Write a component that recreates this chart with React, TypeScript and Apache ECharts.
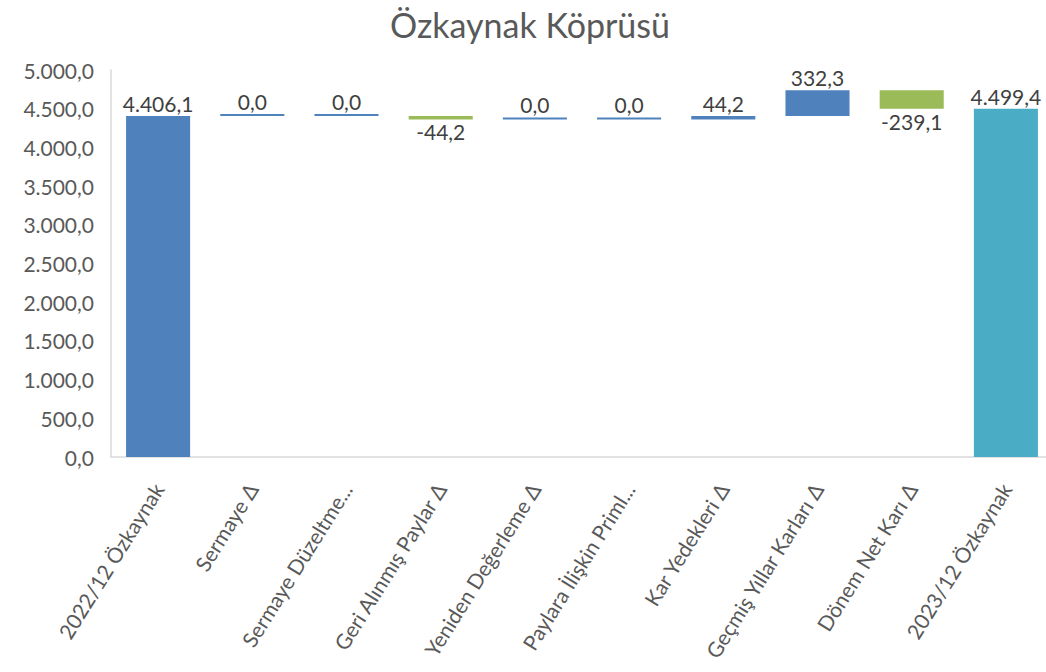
import React, { useEffect, useRef } from "react";
import * as echarts from "echarts";

const categories = [
  "2022/12 Özkaynak",
  "Sermaye Δ",
  "Sermaye Düzeltme...",
  "Geri Alınmış Paylar Δ",
  "Yeniden Değerleme Δ",
  "Paylara İlişkin Priml...",
  "Kar Yedekleri Δ",
  "Geçmiş Yıllar Karları Δ",
  "Dönem Net Karı Δ",
  "2023/12 Özkaynak",
];
const values = [4406.1, 0, 0, -44.2, 0, 0, 44.2, 332.3, -239.1, 4499.4];
const isTotal = [true, false, false, false, false, false, false, false, false, true];
const yTicks = { min: 0, max: 5000, interval: 500 };

const BLUE = "#4f81bd";
const GREEN = "#9bbb59";
const TEAL = "#4bacc6";
const FONT = "Lato, 'Noto Sans', sans-serif";

function fmt(v: number): string {
  const neg = v < 0;
  const s = Math.abs(v).toFixed(1);
  const [i, d] = s.split(".");
  const withDots = i.replace(/\B(?=(\d{3})+(?!\d))/g, ".");
  return (neg ? "-" : "") + withDots + "," + d;
}

export default function App() {
  const ref = useRef<HTMLDivElement>(null);
  useEffect(() => {
    if (!ref.current) return;
    const chart = echarts.init(ref.current, undefined, { renderer: "svg" });

    let cum = 0;
    const base: number[] = [];
    const vis: any[] = [];
    values.forEach((v, idx) => {
      if (isTotal[idx]) {
        base.push(0);
        cum = v;
        vis.push({
          value: v,
          itemStyle: { color: idx === 0 ? BLUE : TEAL },
          label: { position: "top" },
        });
      } else {
        if (v >= 0) {
          base.push(cum);
          cum += v;
          vis.push({
            value: v,
            itemStyle: { color: BLUE },
            label: { position: "top" },
          });
        } else {
          cum += v;
          base.push(cum);
          vis.push({
            value: -v,
            itemStyle: { color: GREEN },
            label: { position: "bottom" },
          });
        }
      }
    });

    chart.setOption({
      animation: false,
      title: {
        text: "Özkaynak Köprüsü",
        left: "center",
        top: 2,
        textStyle: {
          fontFamily: FONT,
          fontSize: 34,
          fontWeight: "normal",
          color: "#595959",
        },
      },
      grid: { left: 111, width: 942, top: 70, height: 387 },
      xAxis: {
        type: "category",
        data: categories,
        axisLine: { lineStyle: { color: "#d9d9d9", width: 1.5 } },
        axisTick: { show: false },
        axisLabel: {
          interval: 0,
          rotate: 58,
          fontFamily: FONT,
          fontSize: 21,
          color: "#595959",
          margin: 28,
        },
      },
      yAxis: {
        type: "value",
        min: yTicks.min,
        max: yTicks.max,
        interval: yTicks.interval,
        axisLine: { show: true, lineStyle: { color: "#d9d9d9", width: 1.5 } },
        axisTick: { show: false },
        splitLine: { show: false },
        axisLabel: {
          fontFamily: FONT,
          fontSize: 21,
          color: "#595959",
          margin: 17,
          formatter: (v: number) => fmt(v),
        },
      },
      series: [
        {
          type: "bar",
          stack: "w",
          data: base,
          barWidth: "68%",
          itemStyle: { color: "transparent" },
          emphasis: { disabled: true },
          silent: true,
        },
        {
          type: "bar",
          stack: "w",
          data: vis,
          barWidth: "68%",
          barMinHeight: 2,
          label: {
            show: true,
            fontFamily: FONT,
            fontSize: 21,
            color: "#404040",
            distance: 2,
            formatter: (p: any) => fmt(values[p.dataIndex]),
          },
        },
      ],
    });
    return () => chart.dispose();
  }, []);
  return (
    <div style={{ position: "absolute", left: 0, top: 0, width: 1046, height: 672, overflow: "hidden", background: "#fff" }}>
      <div ref={ref} style={{ width: 1060, height: 672 }} />
    </div>
  );
}
